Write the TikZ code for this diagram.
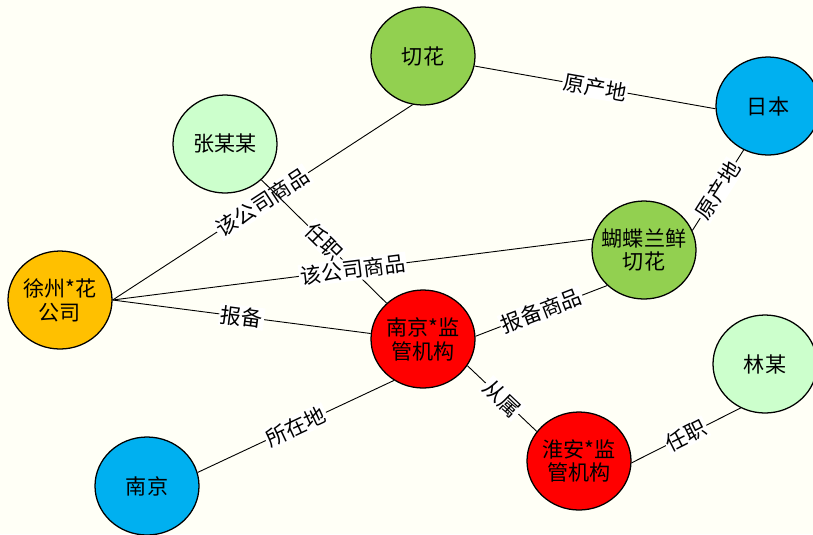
\documentclass[tikz,border=0pt]{standalone}
\usepackage{fontspec}
\usepackage{tikz}
\usetikzlibrary{shapes, arrows, positioning, fit, backgrounds}
\usepackage{xcolor}
\newfontfamily\cjk{Noto Sans CJK SC}
\definecolor{bgcream}{RGB}{255,255,246}
\definecolor{flowergreen}{RGB}{146,208,80}
\definecolor{placeblue}{RGB}{0,176,240}
\definecolor{persongreen}{RGB}{204,255,204}
\definecolor{companyorange}{RGB}{255,192,0}
\definecolor{agencyred}{RGB}{255,0,0}

\begin{document}
\begin{tikzpicture}[font=\cjk\fontsize{15}{17}\selectfont,
        ent/.style={ellipse, draw, line width=0.9pt, minimum width=2.6cm, minimum height=2.45cm, inner sep=-4pt, align=center},
        lbl/.style={fill=white, inner sep=1pt, sloped, midway}]
        \fill[bgcream] (0,0) rectangle (20.325,-13.35);
        \useasboundingbox (0,0) rectangle (20.325,-13.35);
        % entities
        \node[ent, fill=flowergreen] (qh) at (10.575,-1.4) {切花};
        \node[ent, fill=placeblue] (rb) at (19.2,-2.65) {日本};
        \node[ent, fill=persongreen] (zmm) at (5.625,-3.6) {张某某};
        \node[ent, fill=companyorange] (xz) at (1.5,-7.5) {徐州*花\\公司};
        \node[ent, fill=flowergreen] (hd) at (16.1,-6.25) {蝴蝶兰鲜\\切花};
        \node[ent, fill=agencyred] (njjg) at (10.575,-8.475) {南京*监\\管机构};
        \node[ent, fill=persongreen] (lm) at (19.125,-9.1) {林某};
        \node[ent, fill=agencyred] (ha) at (14.475,-11.525) {淮安*监\\管机构};
        \node[ent, fill=placeblue] (nj) at (3.675,-12.15) {南京};
        % relations
        \foreach \a/\b/\t in {xz.east/qh.258/该公司商品, zmm/njjg/任职, xz.east/hd.168/该公司商品,
                xz.east/njjg.174/报备, qh.-11/rb.183/原产地, hd.22/rb.241/原产地,
                njjg.3/hd.224/报备商品, njjg.-31/ha.145/从属, njjg.235/nj.15/所在地, ha.-2/lm.241/任职}
            \draw[line width=0.65pt] (\a) -- node[lbl] {\t} (\b);
\end{tikzpicture}
\end{document}
